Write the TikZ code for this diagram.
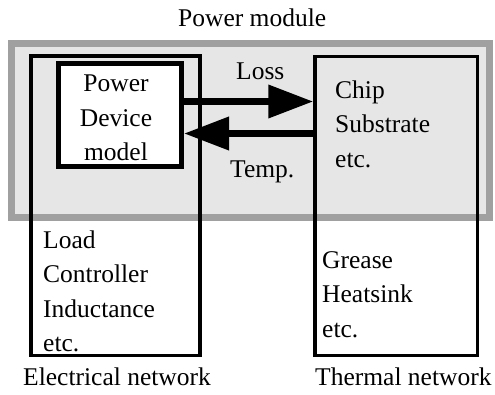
\documentclass[tikz,border=0pt]{standalone}
\usepackage{fontspec}
\setmainfont{Liberation Serif}
\usetikzlibrary{arrows.meta}
\definecolor{modfill}{HTML}{E6E6E6}
\definecolor{modline}{HTML}{A0A0A0}
\begin{document}
\begin{tikzpicture}[x=1pt,y=-1pt,
  lbl/.style={inner sep=0pt, anchor=base west, align=left, font=\fontsize{25.5}{34.5}\selectfont},
  netbox/.style={draw=black, line width=3.5pt, inner sep=0pt},
  bigarrow/.style={line width=7pt, -{Triangle[length=45pt,width=32pt]}}
]
\useasboundingbox (0,0) rectangle (495,394);
\node[draw=modline, fill=modfill, line width=7pt, inner sep=0pt, minimum width=478pt, minimum height=174pt] (mod) at (250.5,130.5) {};
\node[netbox, minimum width=169pt, minimum height=299.5pt] (elec) at (115.5,205.75) {};
\node[netbox, minimum width=162.5pt, minimum height=299pt] (therm) at (396.25,206) {};
\node[draw=black, fill=white, line width=5pt, inner sep=0pt, minimum width=123.5pt, minimum height=103pt] (pdm) at (119.75,115) {};
\coordinate (lossy) at (0,101.5);
\coordinate (tempy) at (0,133.5);
\draw[bigarrow] (pdm.east |- lossy) -- (therm.west |- lossy);
\draw[bigarrow] (therm.west |- tempy) -- (pdm.east |- tempy);
% base anchor of a multi-line node = baseline of its last line
\node[lbl, anchor=base, align=center] (pdmtext) at (116,160.5) {Power\\Device\\model};
\node[lbl] (title) at (178,26) {Power module};
\node[lbl] (loss) at (236,79) {Loss};
\node[lbl] (temp) at (230,177) {Temp.};
\node[lbl] (chip) at (335,167) {Chip\\Substrate\\etc.};
\node[lbl] (load) at (43,351.5) {Load\\Controller\\Inductance\\etc.};
\node[lbl] (grease) at (322,337) {Grease\\Heatsink\\etc.};
\node[lbl] (elabel) at (23,385) {Electrical network};
\node[lbl] (tlabel) at (315,385) {Thermal network};
\end{tikzpicture}
\end{document}
